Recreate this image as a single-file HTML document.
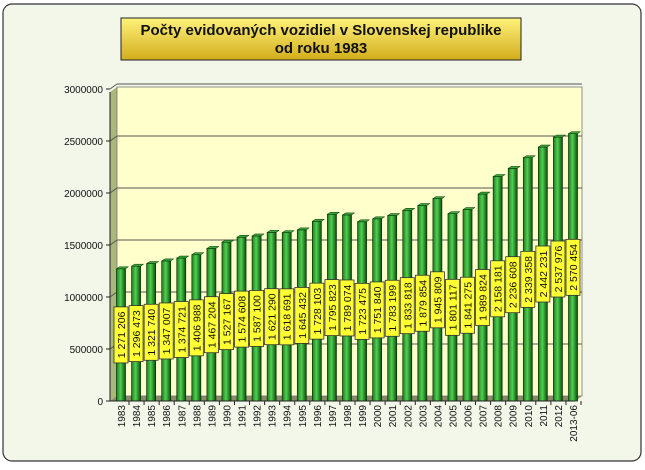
<!DOCTYPE html>
<html><head><meta charset="utf-8"><style>
body{margin:0;width:645px;height:465px;overflow:hidden;background:#fff;font-family:"Liberation Sans",sans-serif}
</style></head><body>
<svg width="645" height="465" xmlns="http://www.w3.org/2000/svg">
<defs>
<linearGradient id="tg" x1="0" y1="0" x2="0" y2="1"><stop offset="0" stop-color="#fff27a"/><stop offset="1" stop-color="#d2ad1c"/></linearGradient>
<linearGradient id="bg" x1="0" y1="0" x2="1" y2="0"><stop offset="0" stop-color="#1f7a1f"/><stop offset="0.45" stop-color="#4fd14f"/><stop offset="1" stop-color="#0d4d0d"/></linearGradient>
</defs>
<rect x="3" y="4" width="638" height="457" rx="9" fill="#f3f7ea" stroke="#333" stroke-width="1.2"/>
<rect x="121" y="18" width="400" height="42" fill="url(#tg)" stroke="#222" stroke-width="1"/>
<text x="321" y="35" text-anchor="middle" font-size="15" font-weight="bold" fill="#111">Počty evidovaných vozidiel v Slovenskej republike</text>
<text x="321" y="53" text-anchor="middle" font-size="15" font-weight="bold" fill="#111">od roku 1983</text>
<polygon points="110,92 117,87 117,396 110,401" fill="#a9b77a"/>
<polygon points="110,401 117,396 582,396 575,401" fill="#8a8a6a"/>
<rect x="117" y="87" width="465" height="309" fill="#ffffcc" stroke="#777" stroke-width="0.8"/>
<g id="grid"></g><g id="bars"></g><g id="labels"></g><g id="axes"></g>
</svg>
<script>
const categories=["1983","1984","1985","1986","1987","1988","1989","1990","1991","1992","1993","1994","1995","1996","1997","1998","1999","2000","2001","2002","2003","2004","2005","2006","2007","2008","2009","2010","2011","2012","2013-06"];
const values=[1271206,1296473,1321740,1347007,1374721,1406988,1467204,1527167,1574608,1587100,1621290,1618691,1645432,1728103,1795823,1789074,1723475,1751840,1783199,1833818,1879854,1945809,1801117,1841275,1989824,2158181,2236608,2339358,2442231,2537976,2570454];
const yTicks=[0,500000,1000000,1500000,2000000,2500000,3000000];
const NS="http://www.w3.org/2000/svg";
const y0=401,yMax=3000000,yTop=89;
const yS=v=>y0-(v/yMax)*(y0-yTop);
const xS=i=>121+i*(573-121)/(categories.length-1);
function mk(t,a,p){const e=document.createElementNS(NS,t);for(const k in a)e.setAttribute(k,a[k]);p.appendChild(e);return e;}
const grid=document.getElementById('grid'),bars=document.getElementById('bars'),labels=document.getElementById('labels'),axes=document.getElementById('axes');
yTicks.forEach(t=>{
  const y=yS(t);
  if(t>0){const g=mk('line',{x1:117,x2:582,y1:y-5,y2:y-5,stroke:'#555','stroke-width':1},grid);
  
  
  const d=mk('line',{x1:110,x2:117,y1:y,y2:y-5,stroke:'#555','stroke-width':1},grid);
  
  }
  const tk=mk('line',{x1:106,x2:110,y1:y,y2:y,stroke:'#222'},axes);
  
  
  const tx=mk('text',{x:103,y:y+4,'text-anchor':'end','font-size':10,fill:'#111'},axes);
  tx.textContent=t;
  
  
});
mk('line',{x1:110,x2:110,y1:92,y2:401,stroke:'#222'},axes);
mk('line',{x1:110,x2:575,y1:401,y2:401,stroke:'#222'},axes);
categories.forEach((c,i)=>{
  const x=xS(i),v=values[i],yt=yS(v);
  const b=mk('rect',{x:x-4.5,y:yt,width:9,height:y0-yt,fill:'url(#bg)',stroke:'#0a300a','stroke-width':0.7},bars);
  
  
  const top=mk('polygon',{points:`${x-4.5},${yt} ${x-1.5},${yt-2} ${x+7.5},${yt-2} ${x+4.5},${yt}`,fill:'#3aa83a',stroke:'#0a300a','stroke-width':0.5},bars);
  
  
  const cy=(y0+yt)/2;
  const lb=mk('rect',{x:x-7,y:cy-28,width:14,height:56,fill:'#ffff33',stroke:'#333','stroke-width':0.8},labels);
  
  
  const vs=String(v).replace(/\B(?=(\d{3})+(?!\d))/g,' ');
  const lt=mk('text',{x:x+4,y:cy,'text-anchor':'middle','font-size':10.5,fill:'#111',transform:`rotate(-90 ${x+4} ${cy})`},labels);
  lt.textContent=vs;
  
  
  const tk=mk('line',{x1:x+8,x2:x+8,y1:401,y2:405,stroke:'#222'},axes);
  
  
  const xt=mk('text',{x:x+4,y:405,'text-anchor':'end','font-size':10,fill:'#111',transform:`rotate(-90 ${x+4} 405)`},axes);
  xt.textContent=c;
  
  
});
</script>
</body></html>
